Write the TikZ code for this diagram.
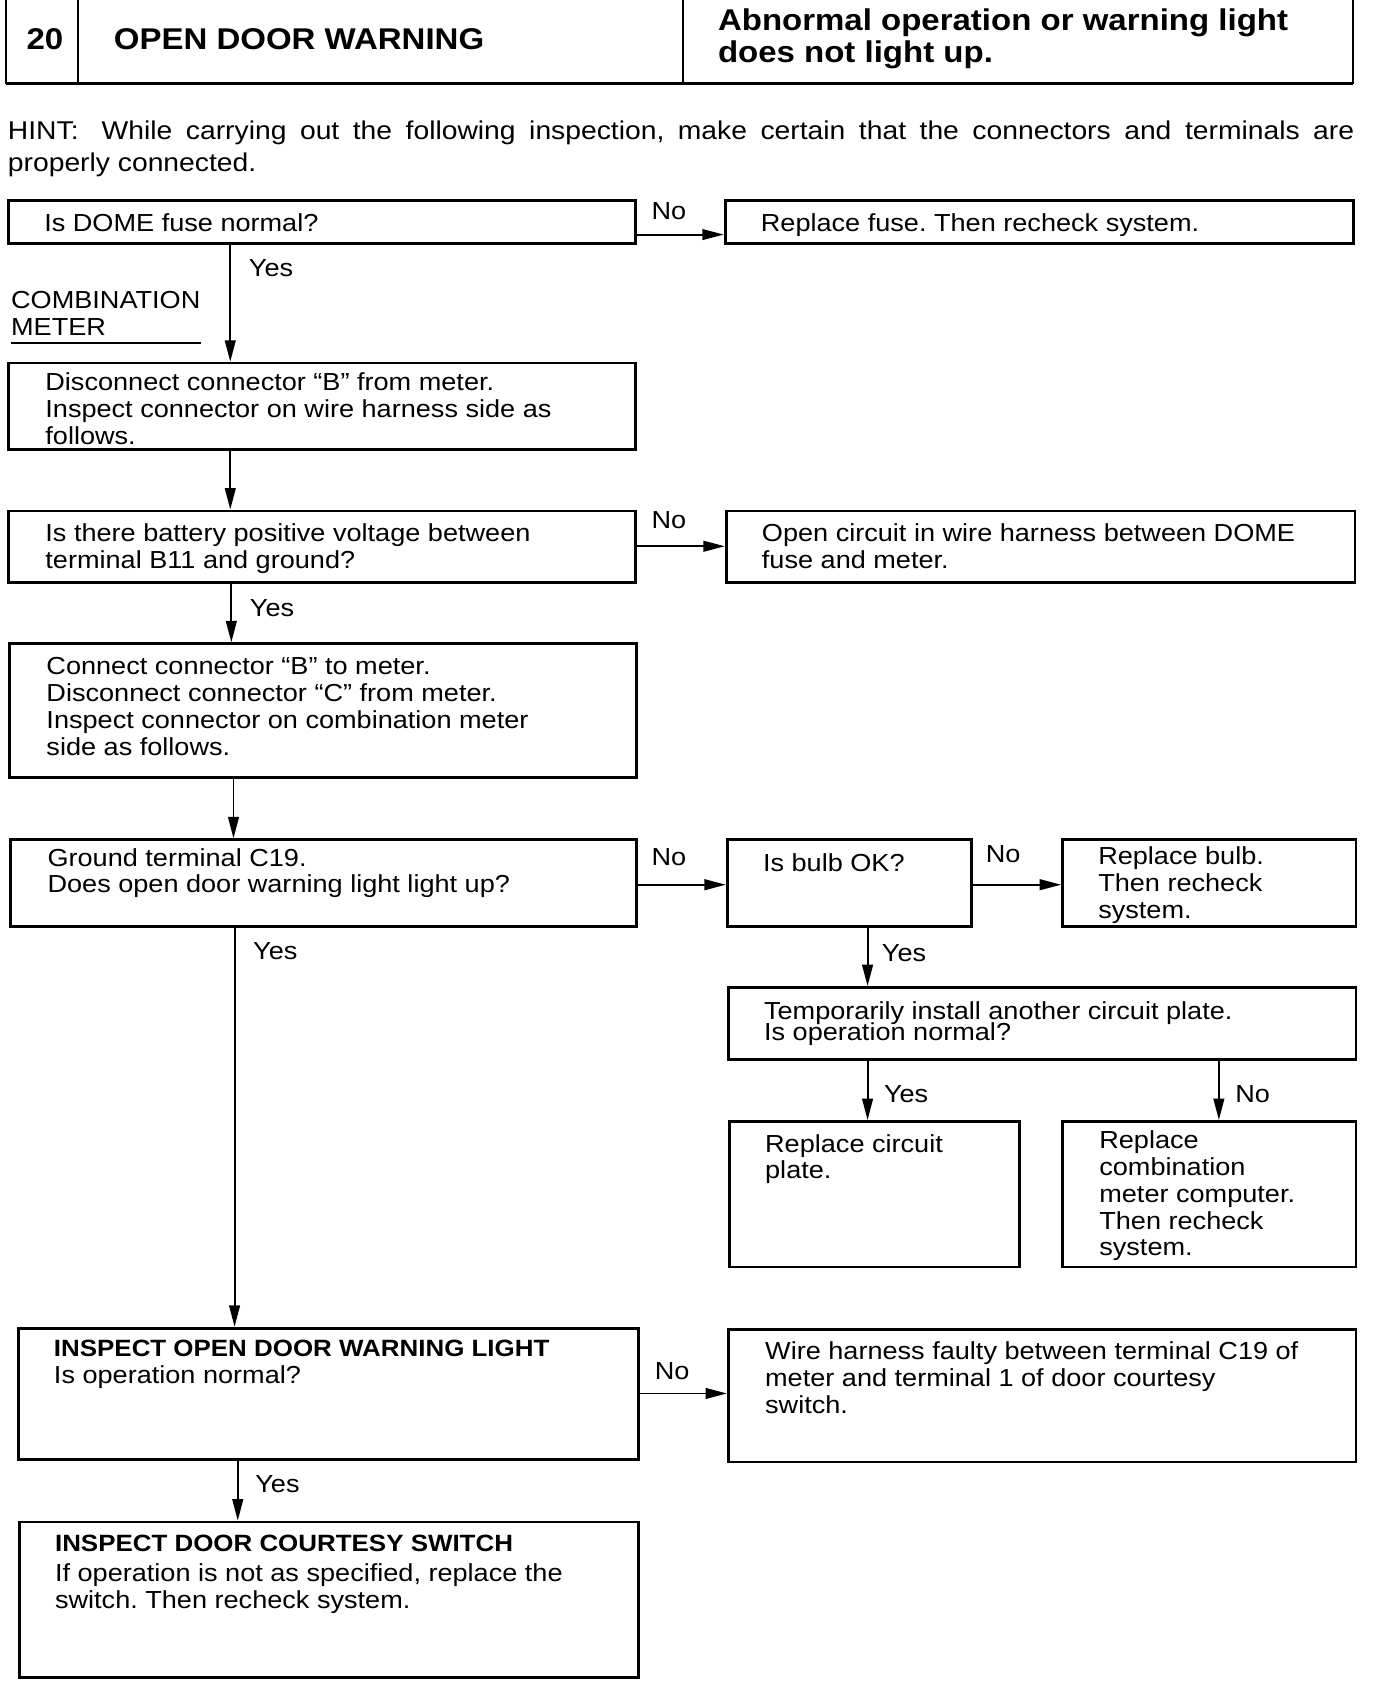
\documentclass[tikz,border=0pt]{standalone}
\usepackage{fontspec}
\setmainfont{Liberation Sans}[FakeStretch=1.1]
\usetikzlibrary{fit,arrows.meta}
\frenchspacing
\newcommand\mkbox[5]{%
  \coordinate (#1-a) at (#2,#3);
  \coordinate (#1-b) at (#4,#5);
  \node[bx, fit=(#1-a)(#1-b)] (#1) {};}
\tikzset{
  bx/.style={draw, line width=1.3pt, inner sep=0pt},
  txt/.style={anchor=north west, inner sep=0pt, align=left,
              font=\fontsize{11.5}{12.5}\selectfont},
  lbl/.style={txt},
  ttl/.style={font=\fontsize{14}{15}\selectfont\bfseries, inner sep=0pt},
  arr/.style={line width=0.9pt, -{Triangle[length=10pt,width=5pt]}},
  rule/.style={line width=1pt},
}
\begin{document}
\begin{tikzpicture}[x=0.5pt,y=-0.5pt]
\fill[white] (0,0) rectangle (1300,1576);
\useasboundingbox (0,0) rectangle (1300,1576);

% header
\draw[rule] (6,0) -- (6,78) (73,0) -- (73,78) (638,0) -- (638,78) (1263,0) -- (1263,78);
\draw[line width=1.8pt] (6,78) -- (1263,78);
\node[ttl] (hnum) at (42,37) {20};
\node[ttl, anchor=west] (htitle) at (106,37) {OPEN DOOR WARNING};
\node[ttl, anchor=north west, align=left] (hdesc) at (670,8)
  {Abnormal operation or warning light\\does not light up.};

% hint
\node[anchor=north west, inner sep=0pt, text width=628.5pt, align=justify,
      font=\fontsize{12}{15}\selectfont] (hint) at (7,112)
  {HINT:\hspace{0.9em}While carrying out the following inspection, make certain that the connectors and terminals are\linebreak properly connected.};

% boxes
\mkbox{A}{8}{187}{593}{227}
\mkbox{Ar}{677}{187}{1264}{227}
\mkbox{B}{8}{339}{593}{420}
\mkbox{C}{8}{477}{593}{544}
\mkbox{Cr}{678}{477}{1265}{544}
\mkbox{D}{9}{601}{594}{726}
\mkbox{E}{10}{784}{594}{865}
\mkbox{F}{679}{784}{907}{865}
\mkbox{G}{992}{784}{1266}{865}
\mkbox{H}{680}{922}{1266}{989}
\mkbox{I}{681}{1047}{952}{1183}
\mkbox{J}{992}{1047}{1266}{1183}
\mkbox{K}{17}{1240}{596}{1363}
\mkbox{L}{680}{1241}{1266}{1365}
\mkbox{M}{18}{1421}{596}{1566}

% box texts
\node[txt] (At) at (41,199.5) {Is DOME fuse normal?};
\node[txt] (Art) at (710,199.5) {Replace fuse. Then recheck system.};
\node[txt] (Bt) at (42,347.5) {Disconnect connector “B” from meter.\\Inspect connector on wire harness side as\\follows.};
\node[txt] (Ct) at (42,488.5) {Is there battery positive voltage between\\terminal B11 and ground?};
\node[txt] (Crt) at (711,488.5) {Open circuit in wire harness between DOME\\fuse and meter.};
\node[txt] (Dt) at (43,613.5) {Connect connector “B” to meter.\\Disconnect connector “C” from meter.\\Inspect connector on combination meter\\side as follows.};
\node[txt] (Et) at (44,791.5) {Ground terminal C19.\\Does open door warning light light up?};
\node[txt] (Ft) at (712,796.5) {Is bulb OK?};
\node[txt] (Gt) at (1025,790.5) {Replace bulb.\\Then recheck\\system.};
\node[txt] (Ht) at (713,934.5) {Temporarily install another circuit plate.\\[-2.5pt]Is operation normal?};
\node[txt] (It) at (714,1058.5) {Replace circuit\\plate.};
\node[txt] (Jt) at (1026,1055.5) {Replace\\combination\\meter computer.\\Then recheck\\system.};
\node[txt] (Kt) at (50,1251) {{\fontsize{11}{12.5}\selectfont\bfseries INSPECT OPEN DOOR WARNING LIGHT}\\Is operation normal?};
\node[txt] (Lt) at (714,1252.5) {Wire harness faulty between terminal C19 of\\meter and terminal 1 of door courtesy\\switch.};
\node[txt] (Mt) at (51,1433) {{\fontsize{11}{12.5}\selectfont\bfseries INSPECT DOOR COURTESY SWITCH}\\[1.5pt]If operation is not as specified, replace the\\switch. Then recheck system.};

% side label
\node[txt] (comb) at (10,271.5) {COMBINATION\\METER};
\draw[rule] (10,320) -- (188,320);

% connector guide coordinates
\coordinate (y1) at (0,219);
\coordinate (y2) at (0,510);
\coordinate (y3) at (0,826);
\coordinate (y4) at (0,1301);
\coordinate (x1) at (215,0);
\coordinate (x2) at (216,0);
\coordinate (x3) at (218,0);
\coordinate (x4) at (219,0);
\coordinate (x5) at (222,0);
\coordinate (x6) at (810,0);
\coordinate (x7) at (1138,0);

% connectors
\draw[arr] (A.east |- y1) -- (Ar.west |- y1);
\draw[arr] (A.south -| x1) -- (B.north -| x1);
\draw[arr] (B.south -| x1) -- (C.north -| x1);
\draw[arr] (C.east |- y2) -- (Cr.west |- y2);
\draw[arr] (C.south -| x2) -- (D.north -| x2);
\draw[arr] (D.south -| x3) -- (E.north -| x3);
\draw[arr] (E.east |- y3) -- (F.west |- y3);
\draw[arr] (F.east |- y3) -- (G.west |- y3);
\draw[arr] (F.south -| x6) -- (H.north -| x6);
\draw[arr] (H.south -| x6) -- (I.north -| x6);
\draw[arr] (H.south -| x7) -- (J.north -| x7);
\draw[arr] (E.south -| x4) -- (K.north -| x4);
\draw[arr] (K.east |- y4) -- (L.west |- y4);
\draw[arr] (K.south -| x5) -- (M.north -| x5);

% connector labels
\node[lbl] (n1) at (608,188.5) {No};
\node[lbl] (y1l) at (232,241.5) {Yes};
\node[lbl] (n2) at (608,477.5) {No};
\node[lbl] (y2l) at (233,559.5) {Yes};
\node[lbl] (n3) at (608,791.5) {No};
\node[lbl] (n4) at (920,789.5) {No};
\node[lbl] (y3l) at (823,881.5) {Yes};
\node[lbl] (y4l) at (236,879.5) {Yes};
\node[lbl] (y5l) at (825,1013.5) {Yes};
\node[lbl] (n5) at (1153,1013.5) {No};
\node[lbl] (n6) at (611,1271.5) {No};
\node[lbl] (y6l) at (238,1377.5) {Yes};
\end{tikzpicture}
\end{document}
